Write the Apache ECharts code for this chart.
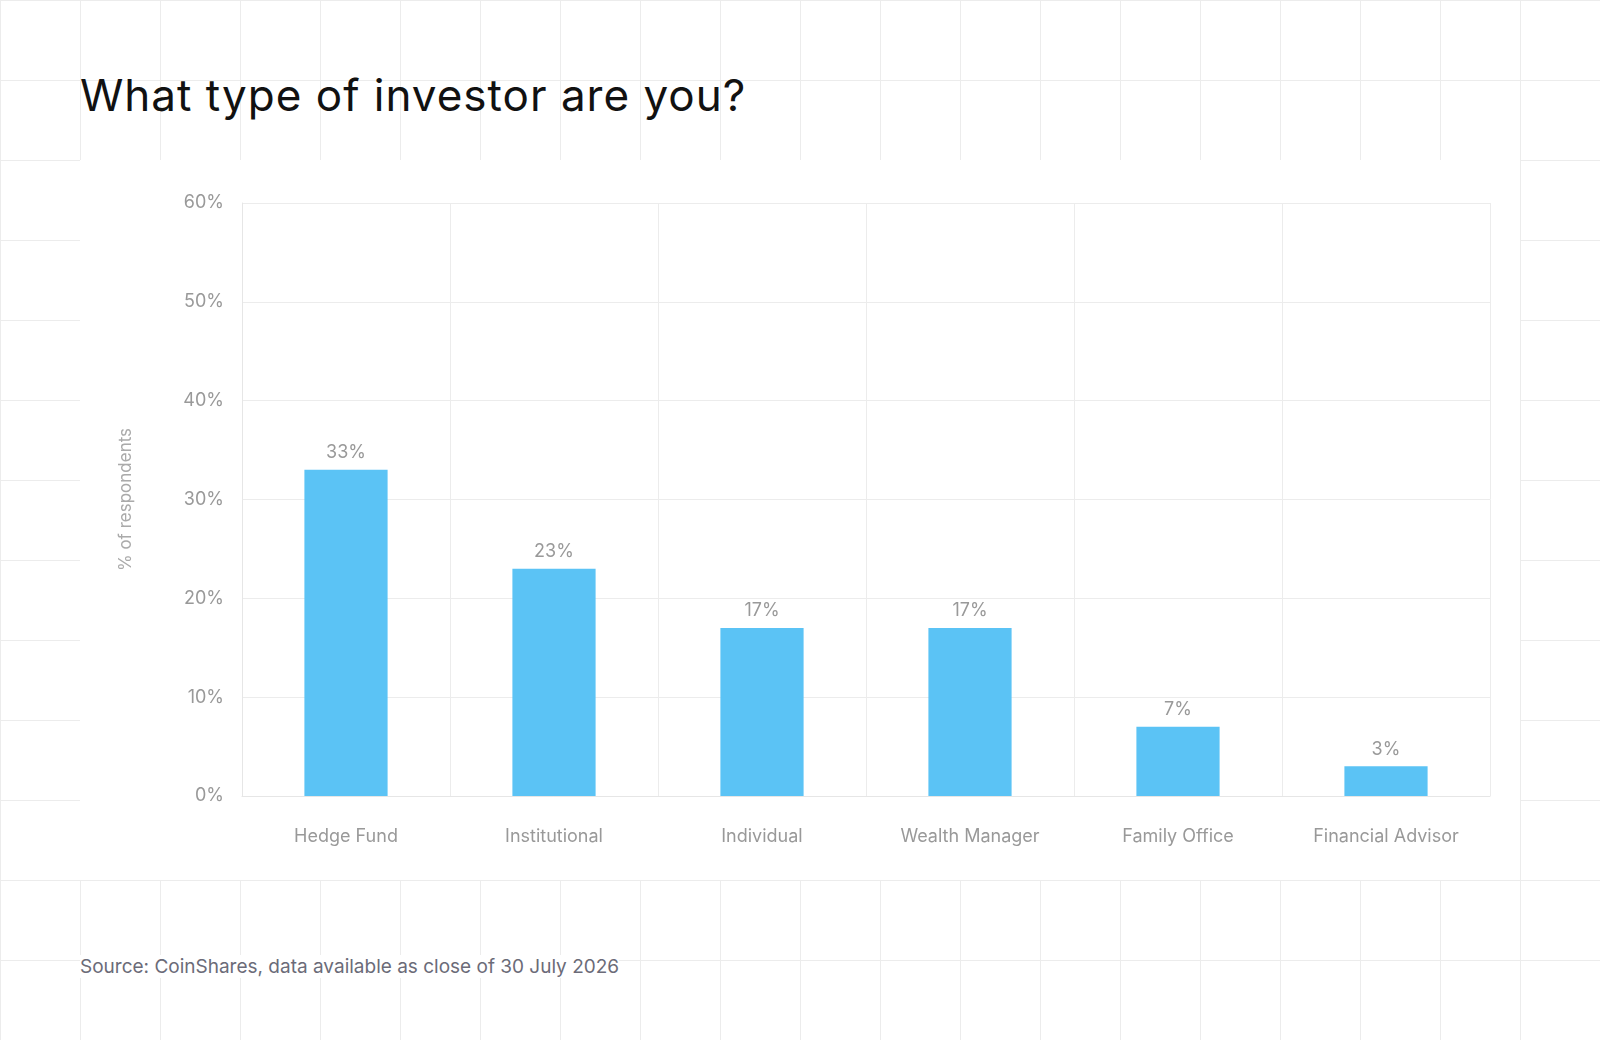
<!DOCTYPE html>
<html><head><meta charset="utf-8">
<script src="https://cdn.jsdelivr.net/npm/echarts@6/dist/echarts.min.js"></script>
<style>
html,body{margin:0;padding:0;width:1600px;height:1040px;overflow:hidden;
background-color:#fff;
background-image:linear-gradient(#ececec 1px,transparent 1px),linear-gradient(90deg,#ececec 1px,transparent 1px);
background-size:80px 80px;background-position:0 0;}
#panel{position:absolute;left:80px;top:160px;width:1440px;height:720px;background:#fff;}
#title{position:absolute;left:80px;top:68px;font-family:Inter,"Noto Sans",sans-serif;font-size:44px;color:#111;letter-spacing:1px;}
#src{position:absolute;left:80px;top:955px;font-family:Inter,"Noto Sans",sans-serif;font-size:19px;color:#6b6b78;background:#fff;}
#chart{position:absolute;left:0;top:0;width:1600px;height:1040px;}
</style></head><body>
<div id="panel"></div>
<div id="title">What type of investor are you?</div>
<div id="src">Source: CoinShares, data available as close of 30 July 2026</div>
<div id="chart"></div>
<script>
const categories=["Hedge Fund","Institutional","Individual","Wealth Manager","Family Office","Financial Advisor"];
const values=[33,23,17,17,7,3];
const yTicks=[0,10,20,30,40,50,60];
const c=echarts.init(document.getElementById('chart'));
const font='Inter, "Noto Sans", sans-serif';
c.setOption({
 grid:{left:242,right:110,top:203,bottom:244},
 xAxis:{type:'category',data:categories,
  axisLine:{show:true,lineStyle:{color:'#e6e6e6'}},axisTick:{show:false},
  splitLine:{show:true,lineStyle:{color:'#ececec'}},
  axisLabel:{color:'#999',fontSize:18,fontFamily:font,margin:32}},
 yAxis:{type:'value',min:yTicks[0],max:yTicks[yTicks.length-1],interval:10,
  name:'% of respondents',nameLocation:'middle',nameGap:108,nameRotate:90,
  nameTextStyle:{color:'#aaa',fontSize:17,fontFamily:font},
  axisLine:{show:true,lineStyle:{color:'#e6e6e6'}},axisTick:{show:false},
  splitLine:{lineStyle:{color:'#ececec'}},
  axisLabel:{color:'#999',fontSize:18,fontFamily:font,margin:18,formatter:'{value}%'}},
 series:[{type:'bar',data:values,barWidth:'40%',itemStyle:{color:'#5BC3F5'},
  label:{show:true,position:'top',formatter:'{c}%',color:'#999',fontSize:18,fontFamily:font,distance:8}}]
});
</script></body></html>
